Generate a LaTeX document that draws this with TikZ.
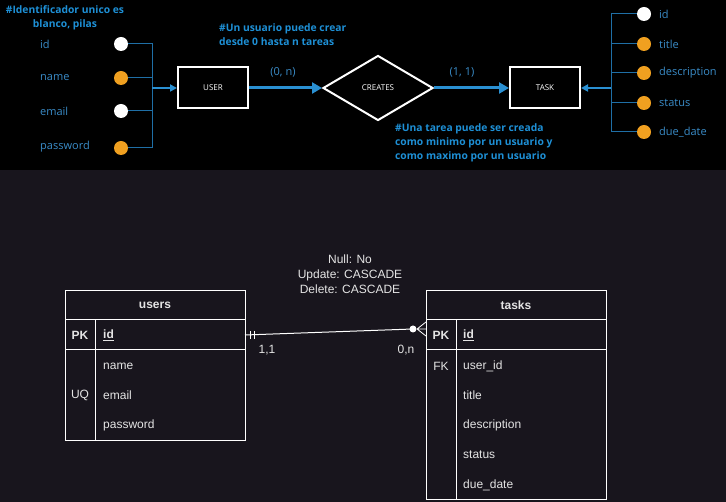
\documentclass[tikz,border=0pt]{standalone}
\usepackage{fontspec}
\setmainfont{Liberation Sans}
\newfontfamily\segoe{Open Sans}
\usetikzlibrary{shapes.geometric,arrows.meta}
\definecolor{botbg}{HTML}{18151D}
\definecolor{attrblue}{HTML}{3A8CC8}
\definecolor{notblue}{HTML}{1E90D6}
\definecolor{lineblue}{HTML}{1F6FA6}
\definecolor{arrblue}{HTML}{2A90D2}
\definecolor{orng}{HTML}{F0A020}
\definecolor{ltxt}{HTML}{E4E4E4}
\begin{document}
\begin{tikzpicture}[x=1pt,y=-1pt,
  entity/.style={draw=white,line width=2pt,minimum width=70pt,minimum height=41pt,inner sep=0pt,text=white,font=\segoe\fontsize{8}{9}\selectfont},
  rel/.style={diamond,draw=white,line width=2pt,minimum width=110pt,minimum height=65pt,inner sep=0pt,text=white,font=\segoe\fontsize{8}{9}\selectfont},
  wdot/.style={circle,fill=white,minimum size=14pt,inner sep=0pt},
  odot/.style={circle,fill=orng,minimum size=14pt,inner sep=0pt},
  attrtxt/.style={anchor=west,inner sep=0pt,text=attrblue,font=\segoe\fontsize{11}{13}\selectfont},
  card/.style={inner sep=0pt,text=attrblue,font=\segoe\fontsize{11}{13}\selectfont},
  note/.style={inner sep=0pt,text=notblue,font=\segoe\bfseries\fontsize{10.3}{14}\selectfont},
  attrline/.style={draw=lineblue,line width=1pt},
  thinarr/.style={draw=arrblue,line width=1.8pt,-{Triangle[length=7pt,width=7pt]}},
  thickarr/.style={draw=arrblue,line width=3pt,-{Triangle[length=10pt,width=11pt]}},
  tbl/.style={draw=white,line width=1pt,anchor=north west,inner sep=0pt,minimum width=180pt},
  tline/.style={draw=white,line width=1pt},
  ttxt/.style={inner sep=0pt,text=ltxt,font=\fontsize{12}{14}\selectfont},
  fld/.style={ttxt,anchor=west},
  ttl/.style={inner sep=0pt,text=ltxt,font=\bfseries\fontsize{12}{14}\selectfont},
]
\fill[botbg] (0,0) rectangle (726,502);
\fill[black] (0,0) rectangle (726,170);
\useasboundingbox (0,0) rectangle (726,502);

% ---------- top: ER (Chen) ----------
\node[note,align=center] (n1) at (65,18) {\#Identificador unico es\\blanco, pilas};
\node[note,align=left,anchor=west] (n2) at (219,35) {\#Un usuario puede crear\\desde 0 hasta n tareas};
\node[note,align=left,anchor=west] (n3) at (395,143) {\#Una tarea puede ser creada\\como minimo por un usuario y\\como maximo por un usuario};

\node[entity] (user) at (213,88) {USER};
\node[rel] (creates) at (378,88) {CREATES};
\node[entity] (task) at (545,88) {TASK};

% user attributes
\node[wdot] (uid) at (121,44) {};
\node[odot] (uname) at (121,78) {};
\node[wdot] (uemail) at (121,111) {};
\node[odot] (upass) at (121,148) {};
\node[attrtxt] (uidl) at (40,44) {id};
\node[attrtxt] (unamel) at (40,78) {name};
\node[attrtxt] (uemaill) at (40,111) {email};
\node[attrtxt] (upassl) at (40,147) {password};
\coordinate (ujoin) at (152,88);
\foreach \a in {uid,uname,uemail,upass} \draw[attrline] (\a.east) -| (ujoin);
\draw[thinarr] (ujoin) -- (user.west);

% task attributes
\node[wdot] (tid) at (644,14) {};
\node[odot] (ttitle) at (644,44) {};
\node[odot] (tdesc) at (644,73) {};
\node[odot] (tstat) at (644,103) {};
\node[odot] (tdue) at (644,132) {};
\node[attrtxt] (tidl) at (659,14) {id};
\node[attrtxt] (ttitlel) at (659,44) {title};
\node[attrtxt] (tdescl) at (659,73) {description};
\node[attrtxt] (tstatl) at (659,103) {status};
\node[attrtxt] (tduel) at (659,132) {due\_date};
\coordinate (tjoin) at (611,88);
\foreach \a in {tid,ttitle,tdesc,tstat,tdue} \draw[attrline] (\a.west) -| (tjoin);
\draw[thinarr] (tjoin) -- (task.east);

\draw[thickarr] (user.east) -- (creates.west);
\draw[thickarr] (creates.east) -- (task.west);
\node[card] (c0n) at (283,72) {(0, n)};
\node[card] (c11) at (462,72) {(1, 1)};

% ---------- bottom: tables ----------
\node[tbl,minimum height=150pt] (users) at (65,290) {};
\draw[tline] (65,320) -- (245,320);
\draw[tline] (65,350) -- (245,350);
\draw[tline] (95,320) -- (95,440);
\node[ttl] (usersh) at (155,305) {users};
\node[ttl] (upk) at (80,335) {PK};
\node[ttl,anchor=west] (uidf) at (103,335) {\underline{id}};
\node[ttxt] (uuq) at (80,395) {UQ};
\node[fld] (unamef) at (103,366) {name};
\node[fld] (uemailf) at (103,395) {email};
\node[fld] (upassf) at (103,425) {password};

\node[tbl,minimum height=209pt] (tasks) at (426,290) {};
\draw[tline] (426,320) -- (606,320);
\draw[tline] (426,350) -- (606,350);
\draw[tline] (456,320) -- (456,499);
\node[ttl] (tasksh) at (516,305) {tasks};
\node[ttl] (tpk) at (441,335) {PK};
\node[ttl,anchor=west] (tidf) at (463,335) {\underline{id}};
\node[ttxt] (tfk) at (441,366) {FK};
\node[fld] (tuidf) at (463,366) {user\_id};
\node[fld] (ttitlef) at (463,395) {title};
\node[fld] (tdescf) at (463,425) {description};
\node[fld] (tstatf) at (463,455) {status};
\node[fld] (tduef) at (463,485) {due\_date};

% relationship line
\coordinate (ra) at (245,335);
\coordinate (rb) at (413,329);
\coordinate (rc) at (426,329);
\draw[white,line width=1pt] (ra) -- (rb);
\draw[white,line width=1pt] (250,331) -- (250,339) (254,331) -- (254,339);
\fill[white] (rb) circle (3.5pt);
\draw[white,line width=0.8pt] (417,329) -- (426,322) (417,329) -- (rc) (417,329) -- (426,336);
\node[ttxt] (l11) at (267,350) {1,1};
\node[ttxt] (l0n) at (406,350) {0,n};
\node[ttxt,align=center,font=\fontsize{12}{15}\selectfont] (rules) at (350,274) {Null: No\\Update: CASCADE\\Delete: CASCADE};
\end{tikzpicture}
\end{document}
